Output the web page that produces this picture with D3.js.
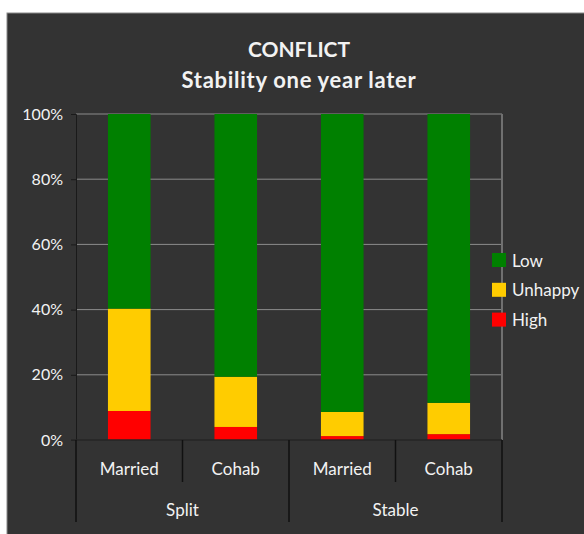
<!DOCTYPE html>
<html>
<head>
<meta charset="utf-8">
<script src="https://cdn.jsdelivr.net/npm/d3@7"></script>
<style>
  body { margin: 0; background: #fff; }
  svg { display: block; }
</style>
</head>
<body>
<script>
// values (percent of each bar)
const groups = ["Split", "Split", "Stable", "Stable"];
const statuses = ["Married", "Cohab", "Married", "Cohab"];
const high = [8.9, 4.0, 1.2, 1.8];
const unhappy = [31.4, 15.4, 7.4, 9.6];
const low = [59.7, 80.6, 91.4, 88.6];
const series = ["High", "Unhappy", "Low"];
const colors = ["#ff0000", "#ffcc00", "#008000"];
const yTicks = [0, 20, 40, 60, 80, 100];

const width = 584, height = 534;
const font = "Lato, 'Open Sans', sans-serif";
const textColor = "#f2f2f2";

const data = statuses.map((s, i) => ({
  key: i, group: groups[i], status: s,
  High: high[i], Unhappy: unhappy[i], Low: low[i]
}));

const x = d3.scaleBand()
  .domain(d3.range(statuses.length))
  .range([76, 502])
  .paddingInner(0.6)
  .paddingOuter(0.3);

const y = d3.scaleLinear()
  .domain([0, 100])
  .range([440, 114]);

const stack = d3.stack().keys(series)(data);

const svg = d3.select("body").append("svg")
  .attr("width", width)
  .attr("height", height)
  .attr("font-family", font);

// dark panel
svg.append("rect")
  .attr("x", 7).attr("y", 13)
  .attr("width", width).attr("height", height)
  .attr("fill", "#333333")
  .attr("stroke", "#8a8a8a")
  .attr("stroke-width", 1);

// title
svg.append("text")
  .attr("x", 299).attr("y", 57)
  .attr("text-anchor", "middle")
  .attr("font-weight", "bold")
  .attr("font-size", 21)
  .attr("fill", textColor)
  .text("CONFLICT");
svg.append("text")
  .attr("x", 299).attr("y", 87.5)
  .attr("text-anchor", "middle")
  .attr("font-weight", "bold")
  .attr("font-size", 22)
  .attr("letter-spacing", 0.7)
  .attr("fill", textColor)
  .text("Stability one year later");

// gridlines
svg.append("g")
  .selectAll("line")
  .data(yTicks.filter(d => d > 0))
  .join("line")
  .attr("x1", 76).attr("x2", 502)
  .attr("y1", d => y(d)).attr("y2", d => y(d))
  .attr("stroke", "#8c8c8c")
  .attr("stroke-width", 1);

// plot area right border
svg.append("line")
  .attr("x1", 502).attr("x2", 502)
  .attr("y1", y(100)).attr("y2", y(0))
  .attr("stroke", "#707070")
  .attr("stroke-width", 2);

// bars
svg.append("g")
  .selectAll("g")
  .data(stack)
  .join("g")
  .attr("fill", (d, i) => colors[i])
  .selectAll("rect")
  .data(d => d)
  .join("rect")
  .attr("x", d => x(d.data.key))
  .attr("y", d => y(d[1]))
  .attr("width", x.bandwidth())
  .attr("height", d => y(d[0]) - y(d[1]));

// y axis
svg.append("g")
  .attr("transform", "translate(76,0)")
  .call(d3.axisLeft(y).tickValues(yTicks).tickSize(5).tickPadding(8).tickFormat(d => d + "%"))
  .call(g => g.select(".domain").attr("stroke", "#1a1a1a"))
  .call(g => g.selectAll(".tick line").attr("stroke", "#1a1a1a"))
  .call(g => g.selectAll(".tick text")
    .attr("fill", textColor)
    .attr("font-family", font)
    .attr("font-size", 16));

// category axis baseline
svg.append("line")
  .attr("x1", 71).attr("x2", 502)
  .attr("y1", y(0)).attr("y2", y(0))
  .attr("stroke", "#262626")
  .attr("stroke-width", 1.5);

// category dividers
const step = x.step();
const half = x.paddingInner() * step / 2;
const dividerX = i => i < statuses.length ? x(i) - half : x(i - 1) + x.bandwidth() + half;
svg.append("g")
  .selectAll("line")
  .data(d3.range(statuses.length + 1))
  .join("line")
  .attr("x1", dividerX)
  .attr("x2", dividerX)
  .attr("y1", y(0))
  .attr("y2", i => i % 2 === 0 ? 522 : 482)
  .attr("stroke", "#111")
  .attr("stroke-width", 1.5);

// inner labels
svg.append("g")
  .selectAll("text")
  .data(data)
  .join("text")
  .attr("x", d => x(d.key) + x.bandwidth() / 2)
  .attr("y", 475)
  .attr("text-anchor", "middle")
  .attr("font-size", 17)
  .attr("fill", textColor)
  .text(d => d.status);

// outer group labels
const groupNames = Array.from(new Set(groups));
svg.append("g")
  .selectAll("text")
  .data(groupNames)
  .join("text")
  .attr("x", g => {
    const idx = d3.range(groups.length).filter(i => groups[i] === g);
    return (x(idx[0]) + x(idx[idx.length - 1]) + x.bandwidth()) / 2;
  })
  .attr("y", 516)
  .attr("text-anchor", "middle")
  .attr("font-size", 17)
  .attr("fill", textColor)
  .text(g => g);

// legend
const legend = svg.append("g")
  .selectAll("g")
  .data(series.slice().reverse())
  .join("g")
  .attr("transform", (d, i) => `translate(492,${253 + i * 29.8})`);
legend.append("rect")
  .attr("width", 14).attr("height", 14)
  .attr("fill", d => colors[series.indexOf(d)]);
legend.append("text")
  .attr("x", 20).attr("y", 13.5)
  .attr("font-size", 17)
  .attr("fill", textColor)
  .text(d => d);
</script>
</body>
</html>
